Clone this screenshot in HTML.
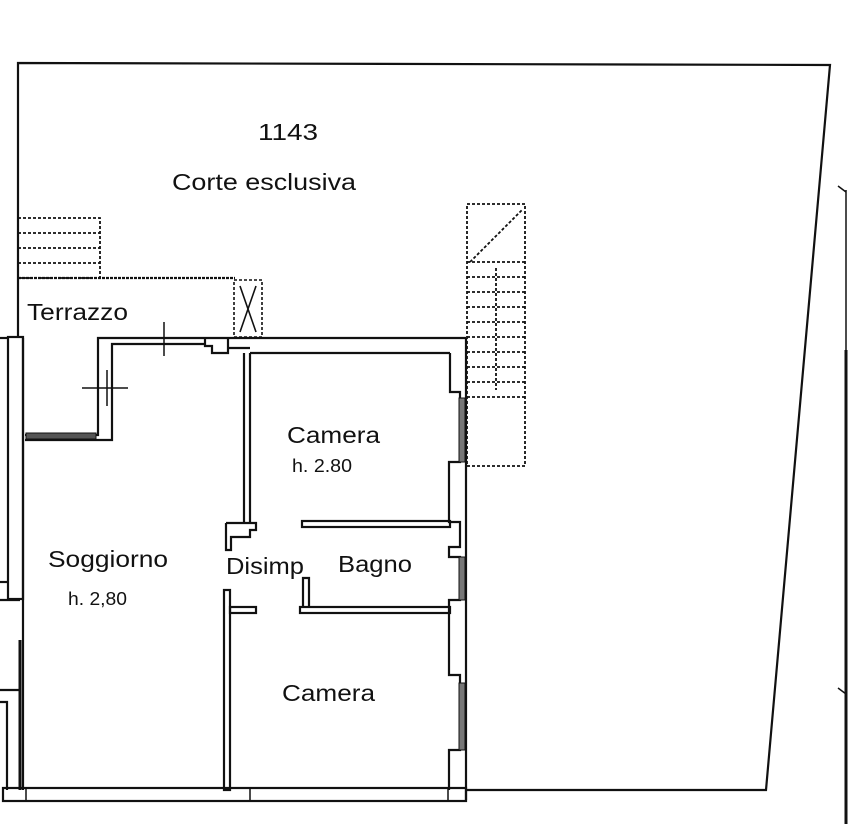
<!DOCTYPE html>
<html><head><meta charset="utf-8"><style>
html,body{margin:0;padding:0;background:#fff;}
svg{display:block;}
text{font-family:"Liberation Sans",Arial,sans-serif;fill:#111;}
</style></head><body>
<svg width="848" height="824" viewBox="0 0 848 824" xmlns="http://www.w3.org/2000/svg">
<g fill="none" stroke="#111" stroke-width="2.2">
<polyline points="18,278 18,63 830,65 766,790 466,790"/>
<line x1="846" y1="190" x2="846" y2="824" stroke-width="1.5"/>
<line x1="846" y1="350" x2="846" y2="824" stroke-width="3"/>
<path d="M838,186 L846,192 M838,688 L846,694" stroke-width="1.5"/>
<g stroke-dasharray="3,2" stroke-width="1.8">
<rect x="18" y="218" width="82" height="60"/>
<line x1="18" y1="233" x2="100" y2="233"/>
<line x1="18" y1="248" x2="100" y2="248"/>
<line x1="18" y1="263" x2="100" y2="263"/>
</g>
<line x1="18" y1="278" x2="235" y2="278" stroke-dasharray="3,1"/>
<line x1="18" y1="278" x2="18" y2="338"/>
<rect x="234" y="280" width="28" height="57" stroke-dasharray="3,2" stroke-width="1.6"/>
<path d="M240,286 L256,332 M256,286 L240,332" stroke-width="1.6"/>
<g stroke-dasharray="3,2" stroke-width="1.8">
<rect x="467" y="204" width="58" height="262"/>
<line x1="470" y1="262" x2="522" y2="210"/>
<line x1="467" y1="262" x2="525" y2="262"/>
<line x1="467" y1="277" x2="525" y2="277"/>
<line x1="467" y1="292" x2="525" y2="292"/>
<line x1="467" y1="307" x2="525" y2="307"/>
<line x1="467" y1="322" x2="525" y2="322"/>
<line x1="467" y1="337" x2="525" y2="337"/>
<line x1="467" y1="352" x2="525" y2="352"/>
<line x1="467" y1="367" x2="525" y2="367"/>
<line x1="467" y1="382" x2="525" y2="382"/>
<line x1="467" y1="397" x2="525" y2="397"/>
<line x1="496" y1="268" x2="496" y2="390"/>
</g>
<rect x="8" y="337" width="15" height="262"/>
<polyline points="0,338 8,338"/>
<polyline points="0,582 8,582"/>
<polyline points="0,600 20,600"/>
<line x1="20" y1="640" x2="20" y2="790" stroke-width="3"/>
<polyline points="0,690 20,690"/>
<polyline points="0,702 7,702 7,790"/>
<polyline points="23,338 23,790"/>
<polyline points="25,435 98,435 98,338 205,338"/>
<polyline points="25,440 112,440 112,344 205,344"/>
<rect x="26" y="433" width="70" height="6" fill="#555" stroke-width="1"/>
<path d="M82,388 L128,388 M107,370 L107,406 M164,322 L164,356" stroke-width="1.5"/>
<polyline points="205,338 466,338"/>
<polyline points="205,338 205,346 212,346 212,353 228,353 228,338"/>
<polyline points="250,353 450,353"/>
<polyline points="228,348 250,348"/>
<line x1="244" y1="353" x2="244" y2="524"/>
<line x1="250" y1="353" x2="250" y2="524"/>
<polyline points="226,523 256,523 256,530 250,530 250,537 231,537 231,550 226,550 226,523"/>
<rect x="302" y="521" width="148" height="6"/>
<rect x="300" y="607" width="150" height="6"/>
<polyline points="303,607 303,578 309,578 309,607"/>
<rect x="224" y="590" width="6" height="200"/>
<rect x="230" y="607" width="26" height="6"/>
<line x1="466" y1="338" x2="466" y2="800"/>
<polyline points="450,353 450,392 460,392 460,462 449,462 449,522 460,522 460,547 449,547 449,557 460,557 460,600 449,600 449,675 460,675 460,750 449,750 449,790"/>
<rect x="459" y="398" width="6" height="64" fill="#777" stroke-width="1"/>
<rect x="459" y="557" width="6" height="43" fill="#777" stroke-width="1"/>
<rect x="459" y="683" width="6" height="67" fill="#777" stroke-width="1"/>
<rect x="3" y="788" width="463" height="13"/>
<line x1="26" y1="788" x2="26" y2="801" stroke-width="1.5"/>
<line x1="250" y1="788" x2="250" y2="801" stroke-width="1.5"/>
<line x1="448" y1="788" x2="448" y2="801" stroke-width="1.5"/>
</g>
<text x="258" y="140" font-size="23" textLength="60" lengthAdjust="spacingAndGlyphs">1143</text>
<text x="172" y="190" font-size="23" textLength="184" lengthAdjust="spacingAndGlyphs">Corte esclusiva</text>
<text x="27" y="320" font-size="23" textLength="101" lengthAdjust="spacingAndGlyphs">Terrazzo</text>
<text x="287" y="443" font-size="23" textLength="93" lengthAdjust="spacingAndGlyphs">Camera</text>
<text x="292" y="472" font-size="18" textLength="60" lengthAdjust="spacingAndGlyphs">h. 2.80</text>
<text x="48" y="567" font-size="23" textLength="120" lengthAdjust="spacingAndGlyphs">Soggiorno</text>
<text x="68" y="605" font-size="18" textLength="59" lengthAdjust="spacingAndGlyphs">h. 2,80</text>
<text x="226" y="574" font-size="23" textLength="78" lengthAdjust="spacingAndGlyphs">Disimp</text>
<text x="338" y="572" font-size="23" textLength="74" lengthAdjust="spacingAndGlyphs">Bagno</text>
<text x="282" y="701" font-size="23" textLength="93" lengthAdjust="spacingAndGlyphs">Camera</text>
</svg>
</body></html>
